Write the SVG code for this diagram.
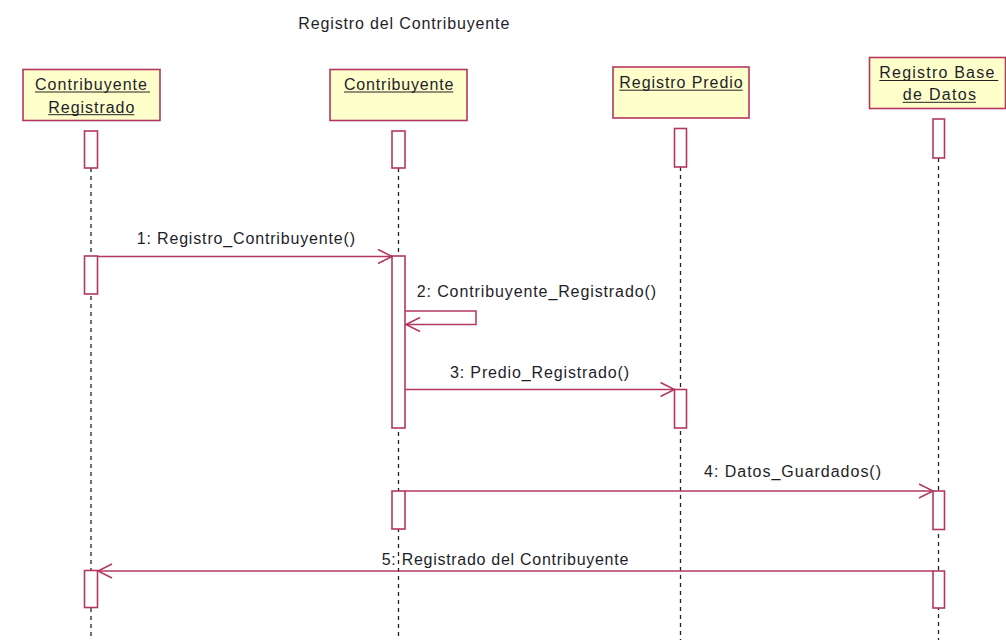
<svg xmlns="http://www.w3.org/2000/svg" width="1006" height="640" viewBox="0 0 1006 640">
<style>
.bg{fill:#ffffff}
.node{fill:#ffffcc;stroke:#b3385f;stroke-width:1.6}
.act{fill:#ffffff;stroke:#b3385f;stroke-width:1.6}
.life{stroke:#222;stroke-width:1.3;stroke-dasharray:4 4;fill:none}
.msg{stroke:#b3385f;stroke-width:1.5;fill:none}
.ul{stroke:#222;stroke-width:1}
text{font-family:"Liberation Sans",Arial,sans-serif;font-size:16px;fill:#1e1e2a}
</style>
<defs>
<marker id="open" markerUnits="userSpaceOnUse" markerWidth="16" markerHeight="16" refX="14" refY="7" orient="auto" overflow="visible">
<path d="M0,0 L14,7 L0,14" fill="none" stroke="#b3385f" stroke-width="1.5"/>
</marker>
</defs>
<rect class="bg" x="0" y="0" width="1006" height="640"/>
<text x="298.3" y="29" textLength="211" lengthAdjust="spacing">Registro del Contribuyente</text>

<g id="lifelines">
<line class="life" x1="91" y1="168" x2="91" y2="640"/>
<line class="life" x1="398.5" y1="168" x2="398.5" y2="640"/>
<line class="life" x1="680.5" y1="167" x2="680.5" y2="640"/>
<line class="life" x1="938.5" y1="158" x2="938.5" y2="640"/>
</g>

<g id="node-contribuyente-registrado">
<rect class="node" x="23" y="69.5" width="137" height="51"/>
<text x="35" y="90" textLength="112" lengthAdjust="spacing">Contribuyente</text>
<line class="ul" x1="35" y1="92" x2="150" y2="92"/>
<text x="48.3" y="112.7" textLength="86" lengthAdjust="spacing">Registrado</text>
<line class="ul" x1="48.3" y1="114.7" x2="134.3" y2="114.7"/>
<rect class="act" x="84.5" y="131" width="13" height="37"/>
<rect class="act" x="84.5" y="256" width="13" height="38"/>
<rect class="act" x="84.5" y="570.5" width="13" height="37"/>
</g>

<g id="node-contribuyente">
<rect class="node" x="330" y="69.5" width="137" height="51"/>
<text x="344" y="90" textLength="109.3" lengthAdjust="spacing">Contribuyente</text>
<line class="ul" x1="344" y1="92" x2="453.3" y2="92"/>
<rect class="act" x="392" y="131" width="13" height="37"/>
<rect class="act" x="392" y="256" width="13" height="172"/>
<rect class="act" x="392" y="491" width="13" height="38"/>
</g>

<g id="node-registro-predio">
<rect class="node" x="613" y="67" width="136" height="51"/>
<text x="619.3" y="87.7" textLength="123.4" lengthAdjust="spacing">Registro Predio</text>
<line class="ul" x1="619.3" y1="90.2" x2="742.7" y2="90.2"/>
<rect class="act" x="674.5" y="128.5" width="12" height="38.5"/>
<rect class="act" x="674.5" y="389.5" width="12" height="38.5"/>
</g>

<g id="node-registro-base-datos">
<rect class="node" x="869.5" y="57.5" width="136" height="51"/>
<text x="879.3" y="78" textLength="115" lengthAdjust="spacing">Registro Base</text>
<line class="ul" x1="879.3" y1="80.5" x2="998.3" y2="80.5"/>
<text x="902.7" y="100" textLength="73.3" lengthAdjust="spacing">de Datos</text>
<line class="ul" x1="902.7" y1="102.3" x2="976" y2="102.3"/>
<rect class="act" x="933" y="119" width="11.5" height="39"/>
<rect class="act" x="933" y="491" width="11.5" height="38.5"/>
<rect class="act" x="933" y="571" width="11.5" height="37"/>
</g>

<g id="connectors">
<line class="msg" x1="97.5" y1="256.5" x2="392" y2="256.5" marker-end="url(#open)"/>
<text x="136.7" y="244" textLength="218.3" lengthAdjust="spacing">1: Registro_Contribuyente()</text>

<polyline class="msg" points="405,311 476,311 476,324.5 406,324.5" marker-end="url(#open)"/>
<text x="416.7" y="296.7" textLength="239.3" lengthAdjust="spacing">2: Contribuyente_Registrado()</text>

<line class="msg" x1="405" y1="389.5" x2="674.5" y2="389.5" marker-end="url(#open)"/>
<text x="450" y="378" textLength="179" lengthAdjust="spacing">3: Predio_Registrado()</text>

<line class="msg" x1="405" y1="491" x2="933" y2="491" marker-end="url(#open)"/>
<text x="704" y="476.7" textLength="177" lengthAdjust="spacing">4: Datos_Guardados()</text>

<line class="msg" x1="933" y1="571" x2="98" y2="571" marker-end="url(#open)"/>
<text x="381.7" y="565" textLength="246.6" lengthAdjust="spacing">5: Registrado del Contribuyente</text>
</g>
</svg>
